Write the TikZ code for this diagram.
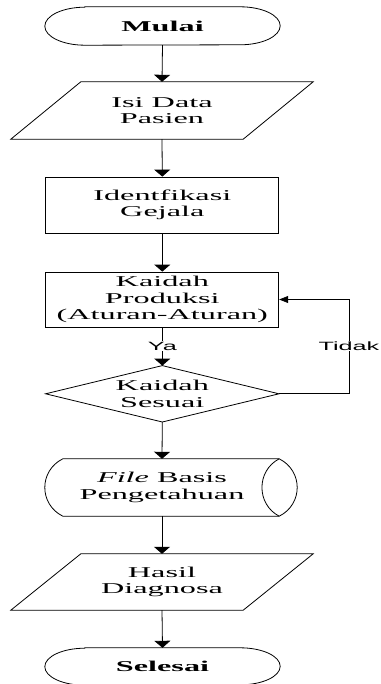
\documentclass[tikz,border=0pt]{standalone}
\usepackage{fontspec}
\setmainfont[FakeStretch=2.15]{Liberation Serif}
\newfontfamily\lblfont[FakeStretch=2.1]{Liberation Sans}
\usetikzlibrary{arrows.meta}
\begin{document}
\begin{tikzpicture}[x=1pt,y=1pt,
  box/.style={rectangle, draw=none, inner sep=0pt, align=center,
    font=\fontsize{15}{16.5}\selectfont},
  rbox/.style={box, draw, line width=0.8pt},
  conn/.style={line width=0.8pt, -{Triangle[width=16pt,length=7pt]}},
  backconn/.style={line width=0.8pt, -{Triangle[width=7pt,length=9pt]}},
  shapeline/.style={line width=0.8pt},
  lbl/.style={fill=white, inner sep=0.5pt, font=\lblfont\fontsize{12}{13}\selectfont}]
\useasboundingbox (0,0) rectangle (380,-684);
\fill[white] (0,0) rectangle (380,-684);

% nodes
\node[box, minimum width=235pt, minimum height=38pt] (mulai) at (162.5,-26) {\textbf{Mulai}};
\node[box, minimum width=302pt, minimum height=57pt] (isi) at (162,-110.5) {Isi Data\\Pasien};
\node[rbox, minimum width=233pt, minimum height=56pt] (ident) at (162.3,-205) {Identfikasi\\Gejala};
\node[rbox, minimum width=233pt, minimum height=55pt] (kaidah) at (162.3,-299.5) {Kaidah\\Produksi\\(Aturan-Aturan)};
\node[box, minimum width=233pt, minimum height=56pt] (dia) at (162.3,-393.8) {Kaidah\\Sesuai};
\node[box, minimum width=234pt, minimum height=57pt] (file) at (162,-487.5) {\textit{File} Basis\\Pengetahuan};
\node[box, minimum width=302pt, minimum height=56pt] (hasil) at (162,-582) {Hasil\\Diagnosa};
\node[box, minimum width=235pt, minimum height=37pt] (selesai) at (162.5,-666.5) {\textbf{Selesai}};

% terminators
\draw[shapeline] ([xshift=40pt]mulai.north west) -- ([xshift=-40pt]mulai.north east)
  arc[start angle=90, end angle=-90, x radius=40pt, y radius=19pt]
  -- ([xshift=40pt]mulai.south west)
  arc[start angle=270, end angle=90, x radius=40pt, y radius=19pt] -- cycle;
\draw[shapeline] ([xshift=40pt]selesai.north west) -- ([xshift=-40pt]selesai.north east)
  arc[start angle=90, end angle=-90, x radius=40pt, y radius=18.5pt]
  -- ([xshift=40pt]selesai.south west)
  arc[start angle=270, end angle=90, x radius=40pt, y radius=18.5pt] -- cycle;

% parallelograms
\draw[shapeline] ([xshift=70pt]isi.north west) -- (isi.north east)
  -- ([xshift=-70pt]isi.south east) -- (isi.south west) -- cycle;
\draw[shapeline] ([xshift=70pt]hasil.north west) -- (hasil.north east)
  -- ([xshift=-70pt]hasil.south east) -- (hasil.south west) -- cycle;

% diamond
\draw[shapeline] (dia.north) -- (dia.east) -- (dia.south) -- (dia.west) -- cycle;

% stored data shape
\draw[shapeline] ([xshift=18pt]file.north west) -- (file.north east)
  .. controls ([xshift=24pt,yshift=-12pt]file.north east) and ([xshift=24pt,yshift=12pt]file.south east) .. (file.south east)
  -- ([xshift=18pt]file.south west)
  .. controls ([xshift=-6pt,yshift=12pt]file.south west) and ([xshift=-6pt,yshift=-12pt]file.north west) .. ([xshift=18pt]file.north west);
\draw[shapeline] (file.north east)
  .. controls ([xshift=-23pt,yshift=-12pt]file.north east) and ([xshift=-23pt,yshift=12pt]file.south east) .. (file.south east);

% connectors
\draw[conn] (mulai.south) -- (isi.north);
\draw[conn] (isi.south) -- (ident.north);
\draw[conn] (ident.south) -- (kaidah.north);
\draw[conn] (kaidah.south) -- (dia.north);
\draw[conn] (dia.south) -- (file.north);
\draw[conn] (file.south) -- (hasil.north);
\draw[conn] (hasil.south) -- (selesai.north);
\coordinate (corner) at (349,-393.8);
\draw[backconn] (dia.east) -- (corner) |- (kaidah.east);

% labels
\node[lbl] (ya) at (162.3,-346) {Ya};
\node[lbl] (tidak) at (349,-346) {Tidak};
\end{tikzpicture}
\end{document}
